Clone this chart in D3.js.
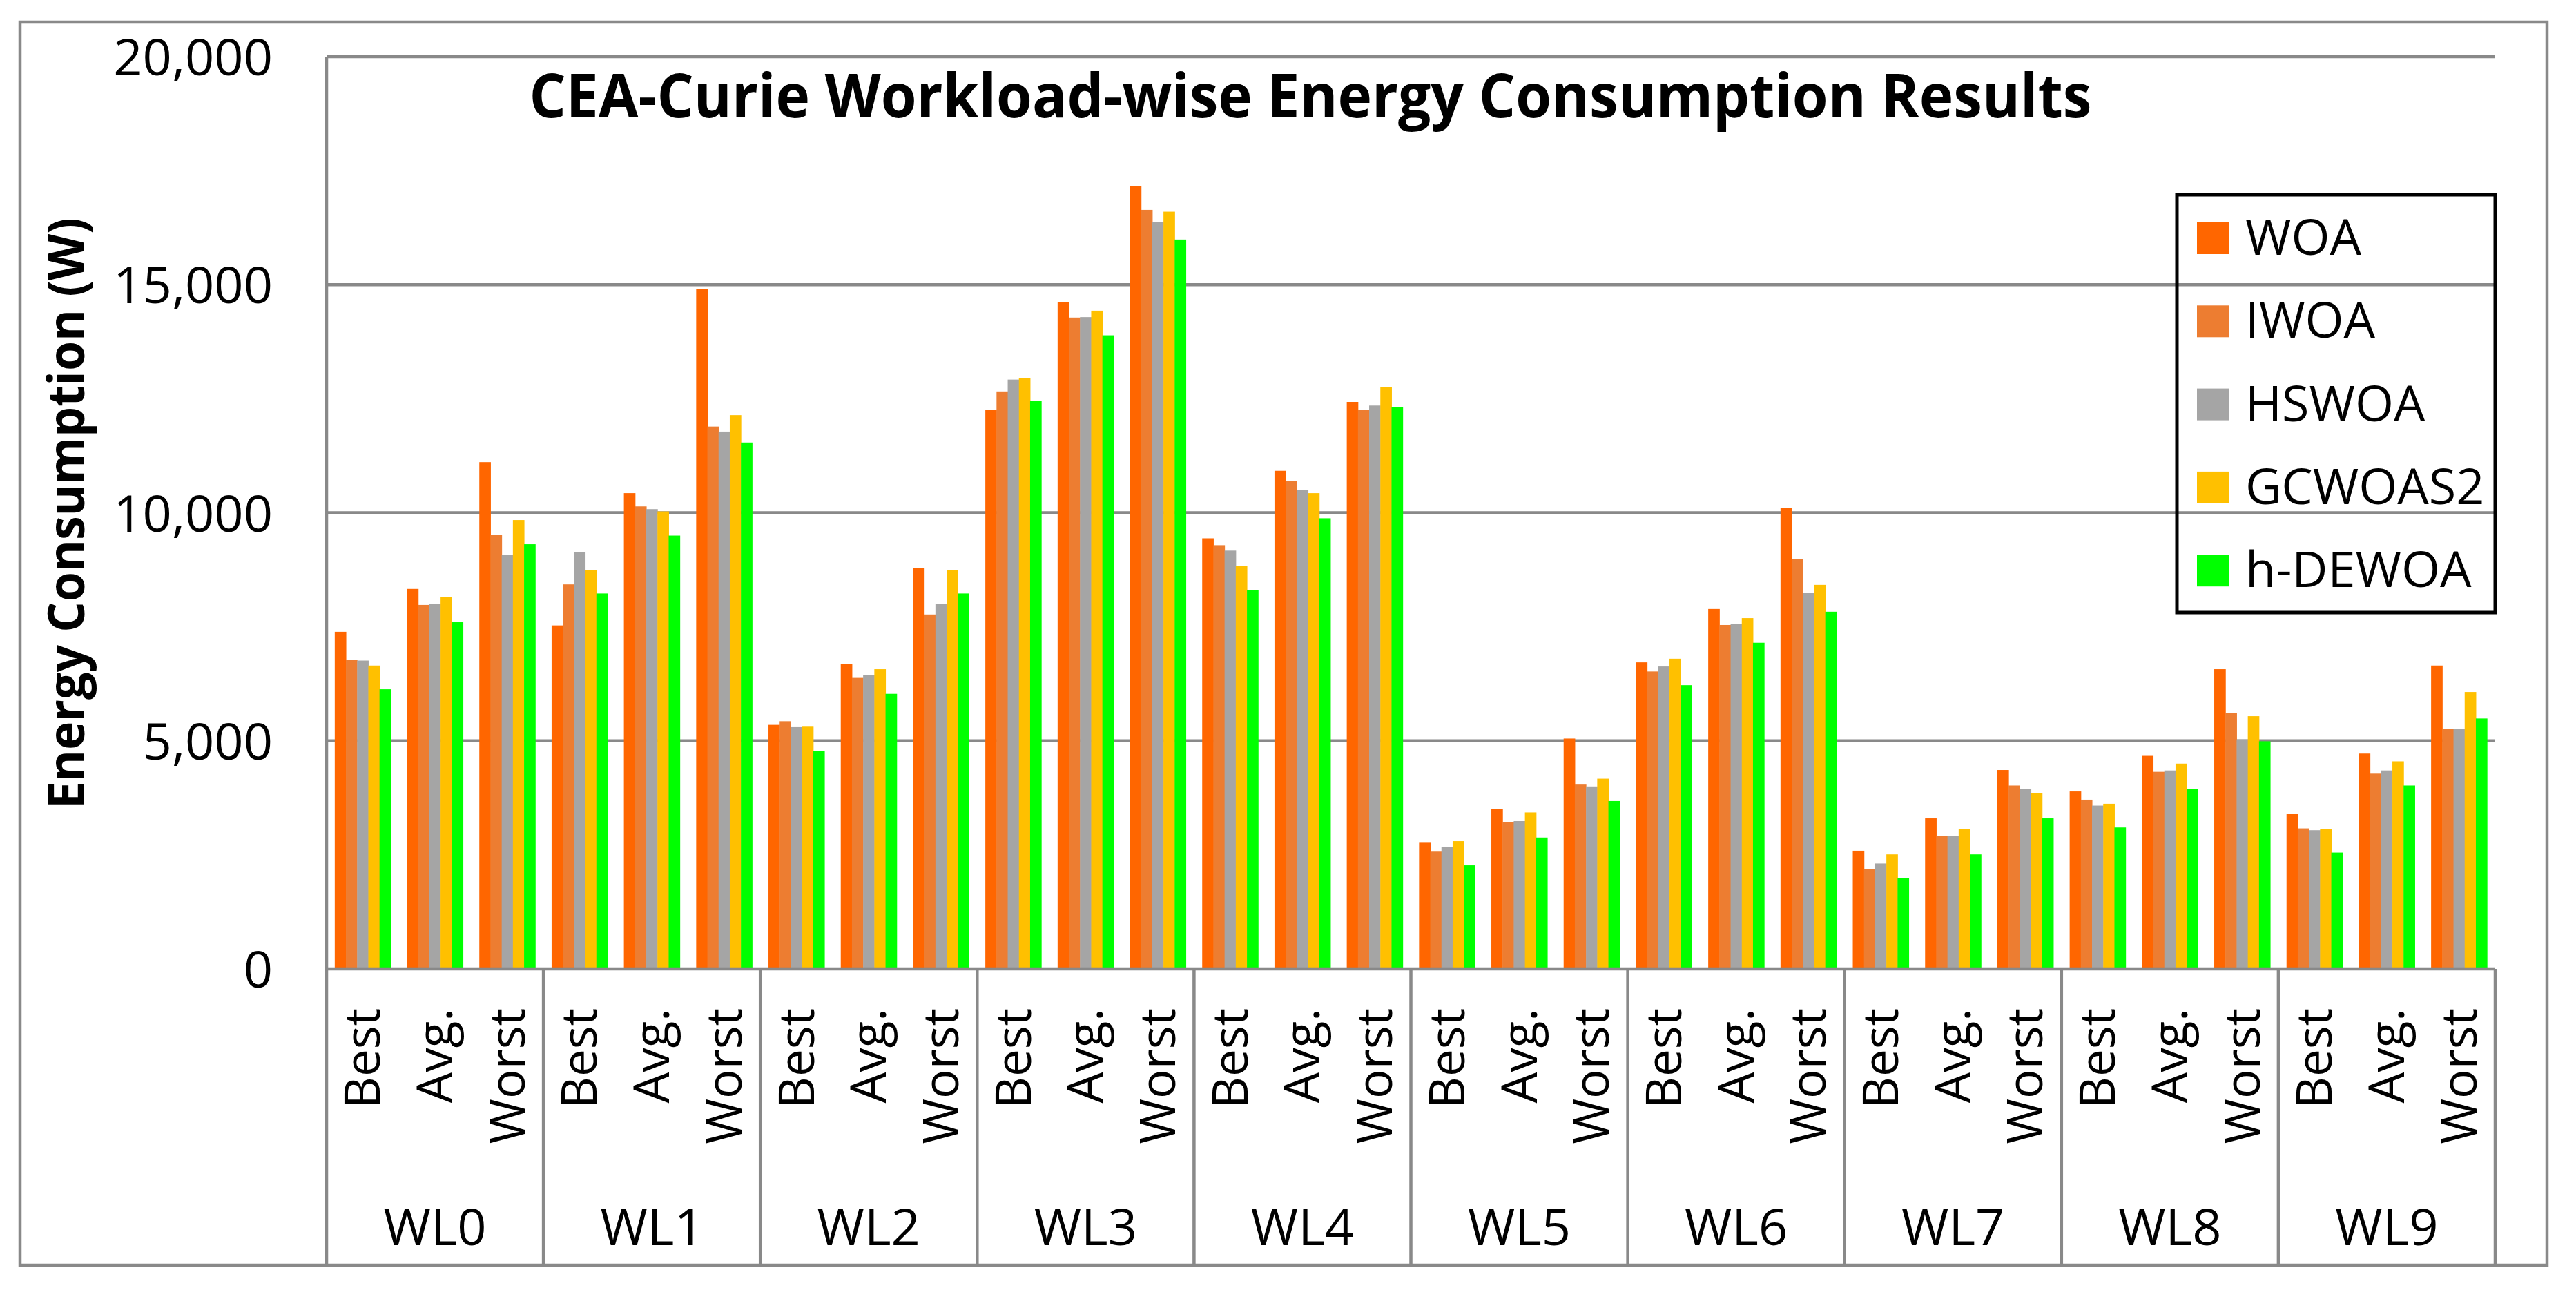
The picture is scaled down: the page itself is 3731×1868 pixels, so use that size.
<!DOCTYPE html>
<html>
<head>
<meta charset="utf-8">
<script src="https://cdn.jsdelivr.net/npm/d3@7"></script>
<style>
    body { margin: 0; background: #ffffff; }
    #chart { width: 3731px; height: 1868px; }
</style>
</head>
<body>
<div id="chart"></div>
<script>
// 数据
const workloads = ['WL0', 'WL1', 'WL2', 'WL3', 'WL4', 'WL5', 'WL6', 'WL7', 'WL8', 'WL9'];
const stats = ['Best', 'Avg.', 'Worst'];
const seriesNames = ['WOA', 'IWOA', 'HSWOA', 'GCWOAS2', 'h-DEWOA'];
const yTicks = [0, 5000, 10000, 15000, 20000];

// 每个数组按 WL0 Best, WL0 Avg., WL0 Worst, WL1 Best ... 排列
const woaValues = [7390, 8330, 11110, 7530, 10430, 14900, 5350, 6680, 8790, 12250, 14610, 17160, 9440, 10920, 12430, 2780, 3500, 5050, 6720, 7890, 10100, 2590, 3300, 4360, 3890, 4670, 6570, 3400, 4720, 6650];
const iwoaValues = [6780, 7980, 9510, 8430, 10140, 11890, 5430, 6380, 7770, 12660, 14280, 16640, 9290, 10700, 12260, 2570, 3210, 4040, 6520, 7540, 8990, 2190, 2920, 4020, 3710, 4320, 5610, 3080, 4280, 5260];
const hswoaValues = [6760, 8000, 9080, 9140, 10080, 11780, 5300, 6440, 8000, 12920, 14290, 16370, 9170, 10500, 12350, 2680, 3240, 4000, 6630, 7570, 8240, 2310, 2920, 3940, 3580, 4350, 5030, 3040, 4350, 5260];
const gcwoas2Values = [6650, 8160, 9840, 8740, 10030, 12140, 5310, 6570, 8750, 12950, 14430, 16600, 8830, 10430, 12750, 2800, 3430, 4170, 6800, 7690, 8420, 2510, 3070, 3850, 3620, 4500, 5540, 3060, 4550, 6070];
const hdewoaValues = [6130, 7600, 9310, 8230, 9500, 11540, 4770, 6030, 8230, 12460, 13890, 15990, 8300, 9880, 12320, 2270, 2880, 3680, 6220, 7150, 7830, 1990, 2510, 3300, 3100, 3940, 4990, 2550, 4020, 5490];

class EnergyBarChart {
    constructor(containerId, options = {}) {
        this.container = document.getElementById(containerId);
        this.options = {
            width: 3731,
            height: 1868,
            plot: { left: 473, right: 3614, top: 82, bottom: 1403 },
            colors: ['#ff6600', '#ed7d31', '#a5a5a5', '#ffc000', '#00ff00'],
            gridColor: '#898989',
            font: "'Open Sans', 'Noto Sans', sans-serif",
            ...options
        };
        this.svg = null;
        this.init();
    }

    init() {
        this.buildData();
        this.createSVG();
        this.drawFrame();
        this.drawGrid();
        this.drawBars();
        this.drawAxes();
        this.drawTitles();
        this.drawLegend();
    }

    /**
     * 整理成 D3 需要的表格
     */
    buildData() {
        const valueSets = [woaValues, iwoaValues, hswoaValues, gcwoas2Values, hdewoaValues];
        this.keys = workloads.flatMap(w => stats.map(s => `${w}|${s}`));
        this.rows = this.keys.map((key, i) => ({
            key: key,
            values: seriesNames.map((name, j) => ({ name: name, value: valueSets[j][i] }))
        }));
    }

    createSVG() {
        const { width, height, plot } = this.options;

        this.svg = d3.select(this.container)
            .append('svg')
            .attr('width', width)
            .attr('height', height)
            .attr('viewBox', `0 0 ${width} ${height}`)
            .style('font-family', this.options.font);

        this.svg.append('rect')
            .attr('width', width)
            .attr('height', height)
            .attr('fill', '#ffffff');

        // 比例尺
        this.x0 = d3.scaleBand()
            .domain(this.keys)
            .range([plot.left, plot.right])
            .paddingInner(0.226)
            .paddingOuter(0.113);

        this.x1 = d3.scaleBand()
            .domain(seriesNames)
            .range([0, this.x0.bandwidth()]);

        this.y = d3.scaleLinear()
            .domain([0, 20000])
            .range([plot.bottom, plot.top]);

        this.color = d3.scaleOrdinal()
            .domain(seriesNames)
            .range(this.options.colors);
    }

    /**
     * 外框
     */
    drawFrame() {
        this.svg.append('rect')
            .attr('x', 29)
            .attr('y', 32)
            .attr('width', 3660)
            .attr('height', 1800)
            .attr('fill', 'none')
            .attr('stroke', this.options.gridColor)
            .attr('stroke-width', 4.5);
    }

    drawGrid() {
        const { plot, gridColor } = this.options;

        this.svg.append('g')
            .attr('class', 'grid')
            .selectAll('line')
            .data(yTicks.filter(d => d > 0))
            .enter()
            .append('line')
            .attr('x1', plot.left)
            .attr('x2', plot.right)
            .attr('y1', d => this.y(d))
            .attr('y2', d => this.y(d))
            .attr('stroke', gridColor)
            .attr('stroke-width', 4.5);
    }

    drawBars() {
        const groups = this.svg.append('g')
            .attr('class', 'bars')
            .selectAll('g')
            .data(this.rows)
            .enter()
            .append('g')
            .attr('transform', d => `translate(${this.x0(d.key)},0)`);

        groups.selectAll('rect')
            .data(d => d.values)
            .enter()
            .append('rect')
            .attr('x', d => this.x1(d.name))
            .attr('width', this.x1.bandwidth() + 0.5)
            .attr('y', d => this.y(d.value))
            .attr('height', d => this.y(0) - this.y(d.value))
            .attr('fill', d => this.color(d.name));
    }

    /**
     * 坐标轴和分类标签
     */
    drawAxes() {
        const { plot, gridColor } = this.options;
        const frameBottom = 1832;

        // Y 轴刻度文字
        const yAxis = this.svg.append('g')
            .attr('transform', `translate(${plot.left},0)`)
            .call(d3.axisLeft(this.y)
                .tickValues(yTicks)
                .tickFormat(d3.format(','))
                .tickSize(0)
                .tickPadding(78));
        yAxis.select('.domain').remove();
        yAxis.selectAll('text')
            .attr('dy', '0.36em')
            .style('font-family', this.options.font)
            .style('font-size', '74px')
            .attr('fill', '#000000');

        // X 轴: Best / Avg. / Worst
        const xAxis = this.svg.append('g')
            .attr('transform', `translate(0,${plot.bottom})`)
            .call(d3.axisBottom(this.x0)
                .tickSize(0)
                .tickFormat(d => d.split('|')[1]));
        xAxis.select('.domain').remove();
        xAxis.selectAll('text')
            .attr('transform', 'rotate(-90)')
            .attr('x', -57)
            .attr('y', 25)
            .attr('dy', 0)
            .style('text-anchor', 'end')
            .style('font-family', this.options.font)
            .style('font-size', '71px')
            .attr('fill', '#000000');

        // 工作负载分组
        const step = this.x0.step();
        const bounds = d3.range(workloads.length + 1).map(i => plot.left + i * stats.length * step);

        this.svg.append('g')
            .selectAll('line')
            .data(bounds)
            .enter()
            .append('line')
            .attr('x1', d => d)
            .attr('x2', d => d)
            .attr('y1', (d, i) => i === 0 ? plot.top : plot.bottom)
            .attr('y2', frameBottom)
            .attr('stroke', gridColor)
            .attr('stroke-width', 4.5);

        this.svg.append('g')
            .selectAll('text')
            .data(workloads)
            .enter()
            .append('text')
            .attr('x', (d, i) => (bounds[i] + bounds[i + 1]) / 2)
            .attr('y', 1803)
            .attr('text-anchor', 'middle')
            .style('font-size', '74px')
            .text(d => d);

        // 横轴线
        this.svg.append('line')
            .attr('x1', plot.left - 2)
            .attr('x2', plot.right)
            .attr('y1', plot.bottom)
            .attr('y2', plot.bottom)
            .attr('stroke', gridColor)
            .attr('stroke-width', 4.5);
    }

    drawTitles() {
        this.svg.append('text')
            .attr('x', 1898)
            .attr('y', 170)
            .attr('text-anchor', 'middle')
            .attr('textLength', 2263)
            .attr('lengthAdjust', 'spacingAndGlyphs')
            .style('font-size', '88px')
            .style('font-weight', 'bold')
            .text('CEA-Curie Workload-wise Energy Consumption Results');

        this.svg.append('text')
            .attr('transform', 'translate(122,743) rotate(-90)')
            .attr('text-anchor', 'middle')
            .attr('textLength', 856)
            .attr('lengthAdjust', 'spacingAndGlyphs')
            .style('font-size', '74px')
            .style('font-weight', 'bold')
            .text('Energy Consumption (W)');
    }

    drawLegend() {
        const legend = this.svg.append('g')
            .attr('class', 'legend');

        legend.append('rect')
            .attr('x', 3153)
            .attr('y', 282)
            .attr('width', 461)
            .attr('height', 605)
            .attr('fill', 'none')
            .attr('stroke', '#000000')
            .attr('stroke-width', 5);

        const items = legend.selectAll('g.item')
            .data(seriesNames)
            .enter()
            .append('g')
            .attr('class', 'item')
            .attr('transform', (d, i) => `translate(0,${345 + i * 120.3})`);

        items.append('rect')
            .attr('x', 3182)
            .attr('y', -23)
            .attr('width', 47)
            .attr('height', 46)
            .attr('fill', d => this.color(d));

        items.append('text')
            .attr('x', 3252)
            .attr('y', 24)
            .style('font-size', '72px')
            .text(d => d);
    }
}

new EnergyBarChart('chart');
</script>
</body>
</html>
